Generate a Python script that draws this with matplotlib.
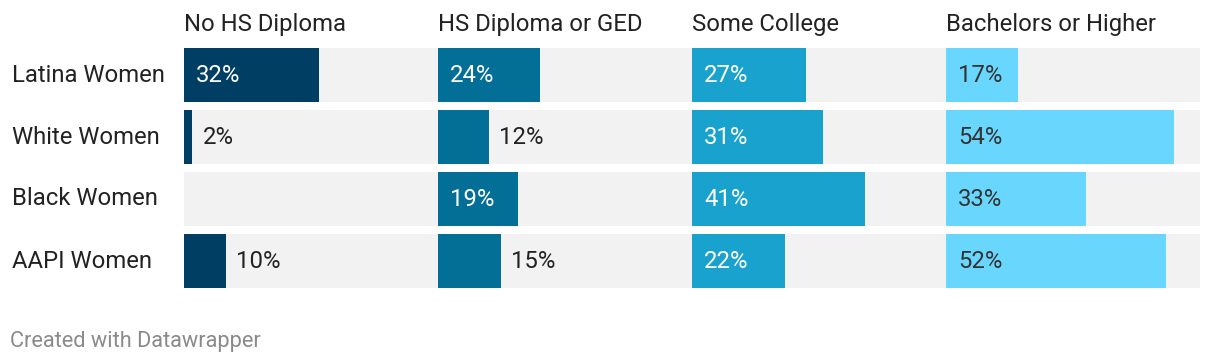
import matplotlib
matplotlib.use("Agg")
import matplotlib.pyplot as plt

plt.rcParams['font.family'] = ['Roboto', 'DejaVu Sans']

groups = ["Latina Women", "White Women", "Black Women", "AAPI Women"]
columns = ["No HS Diploma", "HS Diploma or GED", "Some College", "Bachelors or Higher"]
no_hs = [32, 2, 0, 10]
hs_ged = [24, 12, 19, 15]
some_college = [27, 31, 41, 22]
bachelors = [17, 54, 33, 52]
series = [no_hs, hs_ged, some_college, bachelors]
colors = ['#013e64', '#036e96', '#1aa2cf', '#69d7fd']
inside_text = ['white', 'white', 'white', '#333333']

W, H = 1220, 364
fig = plt.figure(figsize=(W / 100, H / 100), dpi=100)

x0, panel_w = 184, 254
y_top, y_bot = 48, 288
xmax = panel_w / 4.23
bar_h = 54 / 62
fs = 17.2

for i, (col, vals, c, tc) in enumerate(zip(columns, series, colors, inside_text)):
    left = x0 + panel_w * i
    ax = fig.add_axes([left / W, 1 - y_bot / H, panel_w / W, (y_bot - y_top) / H])
    ys = list(range(len(groups)))
    ax.barh(ys, [xmax] * len(groups), height=bar_h, color='#f2f2f2', left=0)
    ax.barh(ys, vals, height=bar_h, color=c)
    ax.set_xlim(0, xmax)
    ax.set_ylim(len(groups) - 1 + bar_h / 2, -bar_h / 2)
    ax.axis('off')
    for y, v in zip(ys, vals):
        if v == 0:
            continue
        if v >= 16:
            ax.annotate(f"{v}%", (0, y), xytext=(12, 0), textcoords='offset pixels',
                        va='center', ha='left', color=tc, fontsize=fs)
        else:
            ax.annotate(f"{v}%", (v, y), xytext=(10, 0), textcoords='offset pixels',
                        va='center', ha='left', color='#222222', fontsize=fs)
    fig.text(left / W, 1 - 24 / H, col, ha='left', va='center', fontsize=fs, color='#222222')

for j, g in enumerate(groups):
    yc = y_top + 27 + 62 * j
    fig.text(12 / W, 1 - yc / H, g, ha='left', va='center', fontsize=fs, color='#222222')

fig.text(10 / W, 1 - 341 / H, "Created with Datawrapper", ha='left', va='center',
         fontsize=15.7, color='#8a8a8a')

fig.savefig("out.png", dpi=100)
